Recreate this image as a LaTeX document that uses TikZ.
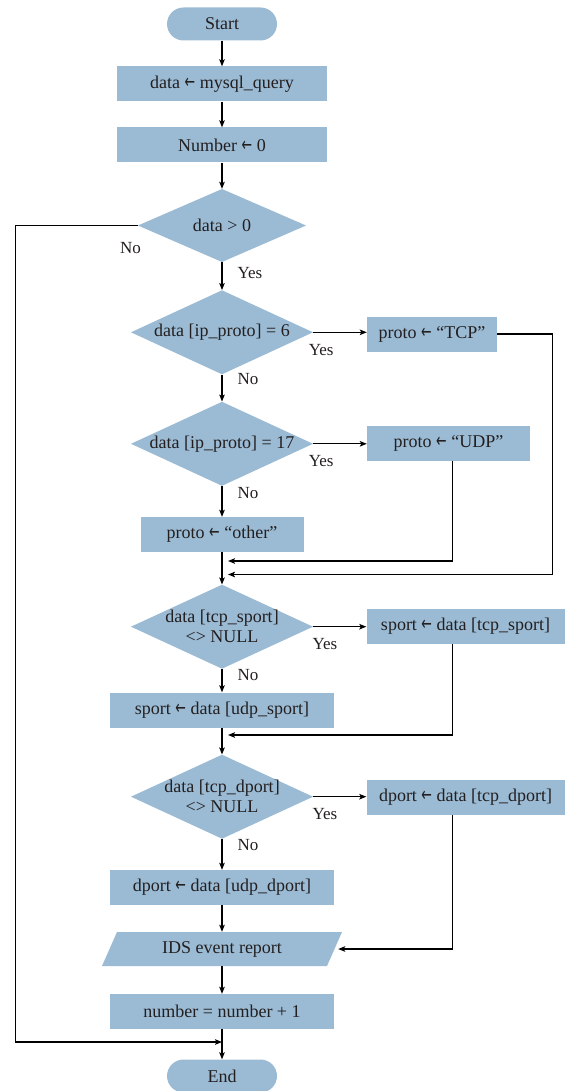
\documentclass[tikz,border=0pt]{standalone}
\usepackage{fontspec}
\setmainfont{Liberation Serif}
\newfontfamily\arrowfont{DejaVu Sans}
\usetikzlibrary{arrows.meta}
\definecolor{flowblue}{RGB}{155,187,212}
\definecolor{inkgray}{RGB}{35,31,32}
\newcommand{\assignto}{{\arrowfont\scalebox{0.7}[1.1]{←}}}

\begin{document}
\begin{tikzpicture}[x=1pt,y=-1pt,text=inkgray,font=\fontsize{18}{20}\selectfont,
    >={Stealth[length=7pt,width=5.5pt,inset=1.5pt]}]
    \tikzstyle{terminal}=[fill=flowblue,rounded corners=16.5pt,minimum width=110pt,minimum height=33pt,inner sep=0pt]
    \tikzstyle{process}=[fill=flowblue,minimum height=35pt,inner sep=0pt]
    \tikzstyle{decision}=[minimum width=182pt,minimum height=84pt,inner sep=0pt,align=center,
        path picture={\fill[flowblue] (path picture bounding box.north) -- (path picture bounding box.east)
            -- (path picture bounding box.south) -- (path picture bounding box.west) -- cycle;}]
    \tikzstyle{io}=[minimum width=240pt,minimum height=34pt,inner sep=0pt,
        path picture={\fill[flowblue] ([xshift=15pt]path picture bounding box.north west) -- (path picture bounding box.north east)
            -- ([xshift=-15pt]path picture bounding box.south east) -- (path picture bounding box.south west) -- cycle;}]
    \tikzstyle{answer}=[inner sep=0pt,font=\fontsize{17}{19}\selectfont]
    \tikzstyle{flow}=[draw=black,line width=1.2pt,->]

    \useasboundingbox (0,0) rectangle (565,1091);

    \node[terminal] at (222,24) (start) {Start};
    \node[process,minimum width=210pt] at (222,84) (query) {data \assignto{} mysql\_query};
    \node[process,minimum width=210pt] at (222,145) (init) {Number \assignto{} 0};
    \node[decision,minimum width=168pt,minimum height=73pt] at (222,225.5) (hasdata) {data > 0};
    \node[decision] at (222,332.3) (istcp) {data [ip\_proto] = 6};
    \node[process,minimum width=130pt] at (432,334) (tcpset) {proto \assignto{} “TCP”};
    \node[decision] at (222,443.8) (isudp) {data [ip\_proto] = 17};
    \node[process,minimum width=163pt] at (448.5,443.5) (udpset) {proto \assignto{} “UDP”};
    \node[process,minimum width=163pt] at (222,534.5) (otherset) {proto \assignto{} “other”};
    \node[decision] at (222,626.7) (hassport) {data [tcp\_sport]\\<> NULL};
    \node[process,minimum width=198pt] at (465.5,626.5) (sporttcp) {sport \assignto{} data [tcp\_sport]};
    \node[process,minimum width=224pt] at (222,710) (sportudp) {sport \assignto{} data [udp\_sport]};
    \node[decision] at (222,796.7) (hasdport) {data [tcp\_dport]\\<> NULL};
    \node[process,minimum width=198pt] at (465.5,797.5) (dporttcp) {dport \assignto{} data [tcp\_dport]};
    \node[process,minimum width=224pt] at (222,887.5) (dportudp) {dport \assignto{} data [udp\_dport]};
    \node[io] at (222,949) (report) {IDS event report};
    \node[process,minimum width=224pt] at (222,1011.5) (count) {number = number + 1};
    \node[terminal] at (222,1076) (finish) {End};

    \coordinate (rail) at (452.5,0);
    \coordinate (joinudp) at (228,561);
    \coordinate (jointcp) at (228,574.5);
    \coordinate (joinsport) at (228,735);
    \coordinate (back) at (222,1042);

    \draw[flow] (start) -- (query);
    \draw[flow] (query) -- (init);
    \draw[flow] (init) -- (hasdata);
    \draw[flow] (hasdata) -- node[answer,pos=0.38,right=15pt] {Yes} (istcp);
    \draw[flow] (hasdata.west) -- node[answer,pos=0.06,below=16pt] {No} ++(-122.5,0) |- (back);
    \draw[flow] (istcp.east) -- node[answer,pos=0.15,below=11pt] {Yes} (istcp.east -| tcpset.west);
    \draw[flow] (istcp) -- node[answer,pos=0.15,right=15pt] {No} (isudp);
    \draw[flow] (isudp.east) -- node[answer,pos=0.15,below=11pt] {Yes} (isudp.east -| udpset.west);
    \draw[flow] (isudp) -- node[answer,pos=0.23,right=15pt] {No} (otherset);
    \draw[flow] (otherset) -- (hassport);
    \draw[flow] (tcpset.east) -- ++(55,0) |- (jointcp);
    \draw[flow] (udpset.south -| rail) |- (joinudp);
    \draw[flow] (hassport.east) -- node[answer,pos=0.22,below=11pt] {Yes} (hassport.east -| sporttcp.west);
    \draw[flow] (hassport) -- node[answer,pos=0.25,right=15pt] {No} (sportudp);
    \draw[flow] (sportudp) -- (hasdport);
    \draw[flow] (sporttcp.south -| rail) |- (joinsport);
    \draw[flow] (hasdport.east) -- node[answer,pos=0.22,below=11pt] {Yes} (hasdport.east -| dporttcp.west);
    \draw[flow] (hasdport) -- node[answer,pos=0.2,right=15pt] {No} (dportudp);
    \draw[flow] (dportudp) -- (report);
    \draw[flow] (dporttcp.south -| rail) |- ([xshift=-4pt]report.east);
    \draw[flow] (report) -- (count);
    \draw[flow] (count) -- (finish);
\end{tikzpicture}
\end{document}
